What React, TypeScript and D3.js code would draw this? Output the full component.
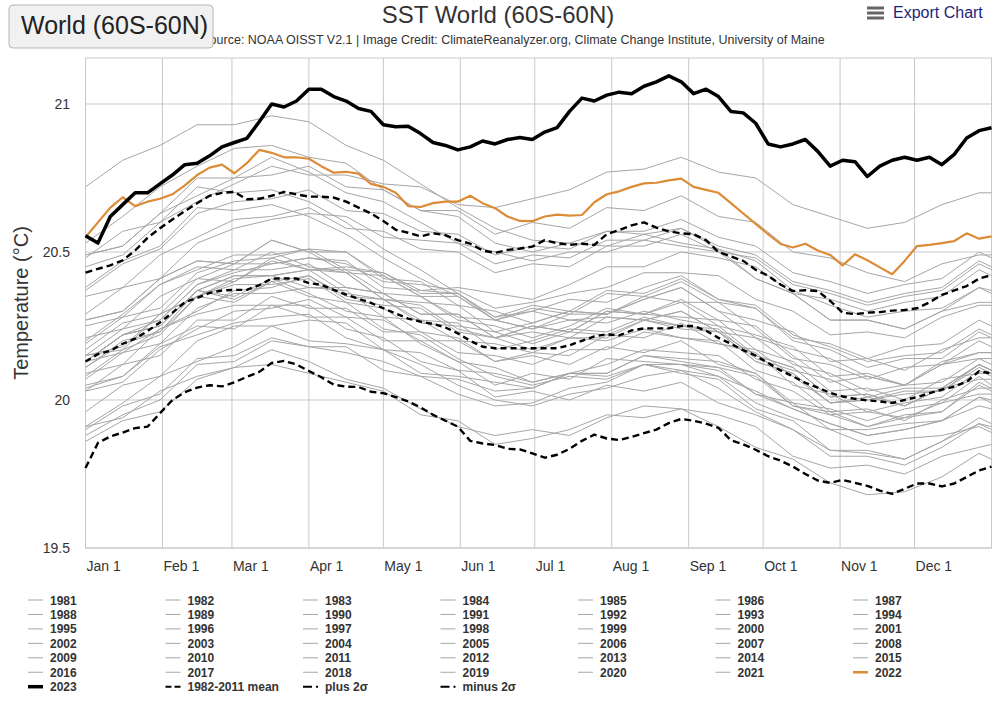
import React from "react";
import * as d3 from "d3";

// ---------- DATA ----------
const monthLabels = ["Jan 1", "Feb 1", "Mar 1", "Apr 1", "May 1", "Jun 1", "Jul 1", "Aug 1", "Sep 1", "Oct 1", "Nov 1", "Dec 1"];
const monthDays = [0, 31, 59, 90, 120, 151, 181, 212, 243, 273, 304, 334];
const yTicks = [19.5, 20, 20.5, 21];

const days5 = d3.range(0, 366, 5);
const days15 = [...d3.range(0, 361, 15), 365];

const y2023 = [
  20.555, 20.53, 20.62, 20.66, 20.70, 20.70, 20.73, 20.76, 20.795, 20.80,
  20.825, 20.855, 20.87, 20.884, 20.94, 21.0, 20.99, 21.01, 21.05, 21.05,
  21.025, 21.01, 20.985, 20.975, 20.93, 20.923, 20.925, 20.90, 20.87, 20.86,
  20.845, 20.855, 20.875, 20.865, 20.88, 20.887, 20.88, 20.905, 20.92, 20.975,
  21.02, 21.01, 21.03, 21.04, 21.035, 21.06, 21.075, 21.095, 21.075, 21.035,
  21.05, 21.025, 20.975, 20.97, 20.935, 20.865, 20.855, 20.865, 20.88, 20.84,
  20.79, 20.81, 20.805, 20.755, 20.79, 20.81, 20.82, 20.81, 20.82, 20.795,
  20.83, 20.885, 20.91, 20.92,
];
const y2022 = [
  20.55, 20.60, 20.65, 20.685, 20.655, 20.67, 20.68, 20.695, 20.725, 20.76,
  20.785, 20.795, 20.766, 20.80, 20.845, 20.835, 20.82, 20.82, 20.815, 20.79,
  20.768, 20.771, 20.765, 20.73, 20.72, 20.70, 20.655, 20.652, 20.665, 20.67,
  20.67, 20.69, 20.665, 20.648, 20.62, 20.605, 20.604, 20.62, 20.626, 20.623,
  20.625, 20.668, 20.695, 20.705, 20.72, 20.732, 20.734, 20.742, 20.748, 20.72,
  20.71, 20.70, 20.665, 20.63, 20.595, 20.56, 20.527, 20.515, 20.528, 20.505,
  20.49, 20.455, 20.492, 20.472, 20.448, 20.425, 20.47, 20.52, 20.524, 20.53,
  20.537, 20.563, 20.545, 20.553,
];
const plus2sd = [
  20.43, 20.443, 20.455, 20.472, 20.505, 20.548, 20.58, 20.61, 20.638, 20.665,
  20.69, 20.70, 20.703, 20.678, 20.68, 20.69, 20.703, 20.695, 20.687, 20.687,
  20.684, 20.67, 20.65, 20.63, 20.605, 20.575, 20.565, 20.553, 20.563, 20.557,
  20.54, 20.528, 20.505, 20.497, 20.507, 20.512, 20.518, 20.54, 20.53, 20.524,
  20.528, 20.524, 20.56, 20.574, 20.59, 20.60, 20.582, 20.57, 20.563, 20.56,
  20.54, 20.50, 20.485, 20.47, 20.44, 20.42, 20.39, 20.368, 20.371, 20.368,
  20.335, 20.295, 20.29, 20.295, 20.297, 20.302, 20.304, 20.31, 20.33, 20.355,
  20.37, 20.385, 20.41, 20.422,
];
const meanClim = [
  20.13, 20.155, 20.166, 20.19, 20.207, 20.233, 20.262, 20.295, 20.33, 20.345,
  20.362, 20.37, 20.372, 20.372, 20.388, 20.41, 20.411, 20.41, 20.395, 20.389,
  20.372, 20.356, 20.342, 20.328, 20.31, 20.292, 20.275, 20.265, 20.257, 20.245,
  20.225, 20.2, 20.18, 20.175, 20.175, 20.175, 20.175, 20.175, 20.175, 20.185,
  20.2, 20.215, 20.222, 20.218, 20.235, 20.242, 20.242, 20.242, 20.25, 20.25,
  20.234, 20.21, 20.19, 20.168, 20.15, 20.125, 20.10, 20.08, 20.058, 20.042,
  20.024, 20.012, 20.004, 19.999, 19.995, 19.99, 20.0, 20.01, 20.023, 20.035,
  20.045, 20.062, 20.097, 20.09,
];
const minus2sd = [
  19.77, 19.855, 19.877, 19.89, 19.905, 19.91, 19.955, 20.0, 20.026, 20.042,
  20.05, 20.046, 20.06, 20.078, 20.095, 20.125, 20.132, 20.12, 20.098, 20.077,
  20.052, 20.045, 20.044, 20.028, 20.023, 20.01, 19.995, 19.975, 19.95, 19.93,
  19.91, 19.862, 19.853, 19.848, 19.835, 19.833, 19.82, 19.805, 19.815, 19.835,
  19.862, 19.883, 19.87, 19.865, 19.875, 19.888, 19.9, 19.922, 19.936, 19.93,
  19.92, 19.906, 19.864, 19.85, 19.832, 19.81, 19.795, 19.775, 19.75, 19.728,
  19.72, 19.73, 19.72, 19.71, 19.694, 19.683, 19.7, 19.718, 19.718, 19.708,
  19.718, 19.74, 19.762, 19.775,
];

// grey years, sampled every 15 days (plus Dec 31)
const y1981 = [null, null, null, null, null, null, null, null, null, null, null, null, null, null, null, null, 20.12, 20.08, 20.03, 19.97, 19.92, 19.88, 19.9, 19.93, 19.98, 19.97];
const y1982 = [19.88, 19.95, 20.0, 20.12, 20.13, 20.2, 20.18, 20.16, 20.13, 20.08, 20.07, 20.03, 20.04, 20.09, 20.12, 20.17, 20.16, 20.15, 20.07, 20.03, 19.95, 19.96, 19.94, 19.99, 20.02, 20.02];
const y1983 = [20.11, 20.19, 20.23, 20.37, 20.35, 20.41, 20.36, 20.30, 20.28, 20.19, 20.13, 20.11, 20.06, 20.09, 20.08, 20.12, 20.10, 20.08, 19.99, 19.94, 19.90, 19.85, 19.87, 19.88, 19.91, 19.89];
const y1984 = [19.91, 19.94, 20.03, 20.08, 20.11, 20.17, 20.13, 20.07, 20.04, 19.97, 19.91, 19.88, 19.90, 19.88, 19.94, 19.98, 19.97, 19.91, 19.84, 19.80, 19.72, 19.68, 19.69, 19.74, 19.82, 19.80];
const y1985 = [19.86, 19.93, 19.96, 20.07, 20.11, 20.12, 20.09, 20.06, 20.03, 19.95, 19.93, 19.85, 19.87, 19.90, 19.95, 19.94, 19.97, 19.95, 19.91, 19.81, 19.77, 19.78, 19.75, 19.81, 19.84, 19.85];
const y1986 = [19.91, 19.99, 20.08, 20.13, 20.18, 20.25, 20.20, 20.19, 20.17, 20.09, 20.08, 20.06, 20.04, 20.09, 20.09, 20.15, 20.14, 20.13, 20.09, 19.99, 19.97, 19.93, 19.97, 19.99, 20.08, 20.05];
const y1987 = [20.15, 20.17, 20.29, 20.35, 20.41, 20.42, 20.38, 20.38, 20.36, 20.29, 20.29, 20.21, 20.25, 20.23, 20.30, 20.29, 20.28, 20.27, 20.17, 20.13, 20.03, 20.04, 20.0, 20.07, 20.09, 20.09];
const y1988 = [20.13, 20.22, 20.25, 20.37, 20.34, 20.40, 20.35, 20.33, 20.24, 20.22, 20.14, 20.08, 20.05, 20.08, 20.07, 20.12, 20.09, 20.07, 19.97, 19.93, 19.83, 19.83, 19.80, 19.86, 19.94, 19.92];
const y1989 = [19.90, 19.98, 20.02, 20.14, 20.15, 20.21, 20.18, 20.18, 20.10, 20.08, 20.02, 19.98, 19.99, 20.04, 20.06, 20.12, 20.12, 20.10, 20.02, 19.97, 19.92, 19.88, 19.90, 19.93, 20.01, 20.0];
const y1990 = [20.09, 20.12, 20.24, 20.30, 20.37, 20.38, 20.42, 20.35, 20.34, 20.27, 20.20, 20.19, 20.16, 20.21, 20.21, 20.27, 20.25, 20.23, 20.13, 20.09, 19.99, 20.0, 20.02, 20.03, 20.11, 20.09];
const y1991 = [20.11, 20.20, 20.23, 20.35, 20.33, 20.40, 20.42, 20.34, 20.32, 20.31, 20.23, 20.21, 20.23, 20.21, 20.28, 20.27, 20.30, 20.23, 20.21, 20.12, 20.09, 20.03, 20.05, 20.06, 20.14, 20.12];
const y1992 = [20.13, 20.16, 20.24, 20.29, 20.32, 20.32, 20.32, 20.24, 20.21, 20.13, 20.10, 20.01, 20.03, 20.0, 20.05, 20.03, 20.06, 19.99, 19.95, 19.90, 19.81, 19.81, 19.78, 19.84, 19.92, 19.90];
const y1993 = [19.96, 20.05, 20.08, 20.20, 20.25, 20.25, 20.27, 20.26, 20.17, 20.16, 20.10, 20.09, 20.06, 20.09, 20.09, 20.15, 20.13, 20.11, 20.02, 19.99, 19.90, 19.90, 19.92, 19.93, 20.01, 19.99];
const y1994 = [20.03, 20.06, 20.17, 20.24, 20.30, 20.31, 20.34, 20.28, 20.27, 20.20, 20.20, 20.13, 20.16, 20.15, 20.22, 20.21, 20.26, 20.19, 20.17, 20.08, 19.99, 20.01, 19.98, 20.04, 20.12, 20.10];
const y1995 = [20.15, 20.18, 20.29, 20.35, 20.39, 20.39, 20.41, 20.33, 20.31, 20.23, 20.21, 20.13, 20.15, 20.12, 20.18, 20.16, 20.20, 20.12, 20.09, 19.98, 19.95, 19.91, 19.94, 19.96, 20.05, 20.03];
const y1996 = [20.05, 20.08, 20.19, 20.25, 20.24, 20.32, 20.28, 20.28, 20.20, 20.20, 20.13, 20.05, 20.09, 20.07, 20.14, 20.13, 20.12, 20.11, 20.08, 19.98, 19.96, 19.91, 19.95, 19.96, 20.06, 20.04];
const y1997 = [20.08, 20.17, 20.22, 20.35, 20.40, 20.47, 20.44, 20.45, 20.43, 20.37, 20.38, 20.36, 20.34, 20.39, 20.45, 20.45, 20.50, 20.48, 20.45, 20.36, 20.34, 20.30, 20.33, 20.35, 20.44, 20.42];
const y1998 = [20.48, 20.57, 20.60, 20.72, 20.70, 20.71, 20.67, 20.60, 20.51, 20.44, 20.36, 20.28, 20.30, 20.27, 20.28, 20.27, 20.30, 20.23, 20.15, 20.11, 20.01, 20.02, 19.98, 20.04, 20.07, 20.07];
const y1999 = [20.04, 20.08, 20.18, 20.22, 20.26, 20.28, 20.29, 20.21, 20.17, 20.12, 20.05, 20.0, 19.98, 20.02, 20.04, 20.08, 20.10, 20.04, 19.96, 19.90, 19.83, 19.82, 19.80, 19.86, 19.92, 19.91];
const y2000 = [20.03, 20.12, 20.15, 20.27, 20.27, 20.35, 20.31, 20.31, 20.23, 20.23, 20.16, 20.15, 20.12, 20.17, 20.17, 20.23, 20.21, 20.19, 20.16, 20.05, 20.02, 19.96, 19.99, 20.01, 20.10, 20.08];
const y2001 = [20.15, 20.24, 20.27, 20.39, 20.44, 20.44, 20.46, 20.38, 20.36, 20.35, 20.27, 20.25, 20.21, 20.25, 20.31, 20.29, 20.33, 20.25, 20.22, 20.18, 20.08, 20.09, 20.05, 20.12, 20.16, 20.16];
const y2002 = [20.19, 20.28, 20.31, 20.43, 20.47, 20.48, 20.51, 20.44, 20.43, 20.36, 20.36, 20.28, 20.32, 20.30, 20.37, 20.36, 20.41, 20.34, 20.32, 20.22, 20.18, 20.13, 20.15, 20.16, 20.24, 20.22];
const y2003 = [20.27, 20.30, 20.41, 20.47, 20.46, 20.54, 20.50, 20.43, 20.42, 20.35, 20.28, 20.27, 20.24, 20.29, 20.29, 20.35, 20.33, 20.33, 20.24, 20.14, 20.12, 20.07, 20.11, 20.12, 20.20, 20.18];
const y2004 = [20.21, 20.24, 20.35, 20.41, 20.40, 20.48, 20.44, 20.44, 20.36, 20.29, 20.29, 20.21, 20.25, 20.23, 20.30, 20.29, 20.34, 20.27, 20.25, 20.15, 20.06, 20.08, 20.05, 20.13, 20.16, 20.16];
const y2005 = [20.20, 20.29, 20.39, 20.44, 20.49, 20.49, 20.51, 20.50, 20.41, 20.40, 20.32, 20.30, 20.26, 20.30, 20.29, 20.34, 20.38, 20.30, 20.21, 20.17, 20.14, 20.08, 20.05, 20.12, 20.14, 20.14];
const y2006 = [20.13, 20.22, 20.25, 20.37, 20.42, 20.42, 20.44, 20.43, 20.34, 20.33, 20.32, 20.23, 20.26, 20.30, 20.29, 20.34, 20.38, 20.30, 20.27, 20.23, 20.13, 20.14, 20.10, 20.17, 20.21, 20.21];
const y2007 = [20.25, 20.28, 20.39, 20.45, 20.44, 20.50, 20.45, 20.43, 20.34, 20.32, 20.24, 20.21, 20.17, 20.21, 20.20, 20.24, 20.21, 20.20, 20.10, 20.06, 19.96, 19.97, 19.93, 20.0, 20.04, 20.04];
const y2008 = [20.07, 20.16, 20.19, 20.31, 20.36, 20.36, 20.38, 20.37, 20.28, 20.27, 20.26, 20.17, 20.20, 20.24, 20.23, 20.28, 20.25, 20.24, 20.14, 20.10, 20.07, 20.01, 20.04, 20.04, 20.12, 20.10];
const y2009 = [20.13, 20.22, 20.27, 20.39, 20.43, 20.46, 20.48, 20.46, 20.40, 20.39, 20.37, 20.31, 20.33, 20.36, 20.38, 20.43, 20.43, 20.42, 20.34, 20.30, 20.22, 20.23, 20.21, 20.28, 20.32, 20.32];
const y2010 = [20.38, 20.47, 20.52, 20.65, 20.64, 20.66, 20.62, 20.56, 20.48, 20.41, 20.35, 20.27, 20.24, 20.27, 20.26, 20.30, 20.27, 20.25, 20.15, 20.11, 20.01, 20.02, 19.98, 20.04, 20.12, 20.10];
const y2011 = [20.13, 20.22, 20.25, 20.37, 20.42, 20.42, 20.44, 20.36, 20.34, 20.26, 20.25, 20.23, 20.19, 20.23, 20.22, 20.27, 20.24, 20.23, 20.13, 20.09, 19.99, 20.0, 20.03, 20.03, 20.12, 20.10];
const y2012 = [20.17, 20.26, 20.29, 20.41, 20.46, 20.46, 20.48, 20.47, 20.38, 20.37, 20.36, 20.27, 20.30, 20.34, 20.33, 20.38, 20.42, 20.34, 20.31, 20.20, 20.17, 20.11, 20.14, 20.14, 20.23, 20.21];
const y2013 = [20.27, 20.30, 20.41, 20.47, 20.46, 20.54, 20.50, 20.50, 20.42, 20.35, 20.35, 20.27, 20.31, 20.29, 20.36, 20.35, 20.40, 20.33, 20.31, 20.21, 20.19, 20.14, 20.18, 20.19, 20.27, 20.25];
const y2014 = [20.29, 20.38, 20.41, 20.53, 20.58, 20.61, 20.63, 20.62, 20.55, 20.54, 20.53, 20.46, 20.49, 20.48, 20.54, 20.54, 20.58, 20.52, 20.49, 20.40, 20.37, 20.33, 20.36, 20.38, 20.47, 20.45];
const y2015 = [20.45, 20.49, 20.60, 20.67, 20.73, 20.79, 20.76, 20.76, 20.73, 20.72, 20.66, 20.65, 20.68, 20.71, 20.77, 20.78, 20.82, 20.77, 20.75, 20.66, 20.62, 20.58, 20.60, 20.66, 20.70, 20.70];
const y2016 = [20.72, 20.81, 20.86, 20.93, 20.93, 20.96, 20.94, 20.86, 20.81, 20.73, 20.65, 20.58, 20.54, 20.53, 20.57, 20.56, 20.58, 20.51, 20.47, 20.37, 20.32, 20.28, 20.30, 20.31, 20.38, 20.37];
const y2017 = [20.49, 20.52, 20.63, 20.75, 20.75, 20.82, 20.77, 20.70, 20.67, 20.60, 20.53, 20.50, 20.47, 20.50, 20.50, 20.54, 20.52, 20.50, 20.41, 20.36, 20.27, 20.27, 20.24, 20.30, 20.38, 20.36];
const y2018 = [20.35, 20.38, 20.49, 20.55, 20.61, 20.62, 20.65, 20.58, 20.57, 20.51, 20.50, 20.43, 20.46, 20.45, 20.52, 20.52, 20.56, 20.50, 20.48, 20.39, 20.36, 20.32, 20.35, 20.37, 20.46, 20.44];
const y2019 = [20.49, 20.52, 20.63, 20.69, 20.75, 20.76, 20.79, 20.72, 20.71, 20.64, 20.64, 20.56, 20.60, 20.58, 20.65, 20.64, 20.69, 20.62, 20.60, 20.50, 20.48, 20.43, 20.40, 20.46, 20.49, 20.49];
const y2020 = [20.53, 20.62, 20.72, 20.79, 20.85, 20.86, 20.82, 20.80, 20.71, 20.64, 20.62, 20.53, 20.50, 20.53, 20.52, 20.56, 20.53, 20.51, 20.41, 20.36, 20.27, 20.27, 20.24, 20.30, 20.33, 20.33];
const y2021 = [20.37, 20.46, 20.51, 20.63, 20.67, 20.68, 20.71, 20.64, 20.63, 20.57, 20.56, 20.49, 20.52, 20.51, 20.57, 20.57, 20.61, 20.55, 20.52, 20.43, 20.40, 20.36, 20.39, 20.41, 20.50, 20.48];

const greyYears = [
  { year: 1981, values: y1981 }, { year: 1982, values: y1982 }, { year: 1983, values: y1983 },
  { year: 1984, values: y1984 }, { year: 1985, values: y1985 }, { year: 1986, values: y1986 },
  { year: 1987, values: y1987 }, { year: 1988, values: y1988 }, { year: 1989, values: y1989 },
  { year: 1990, values: y1990 }, { year: 1991, values: y1991 }, { year: 1992, values: y1992 },
  { year: 1993, values: y1993 }, { year: 1994, values: y1994 }, { year: 1995, values: y1995 },
  { year: 1996, values: y1996 }, { year: 1997, values: y1997 }, { year: 1998, values: y1998 },
  { year: 1999, values: y1999 }, { year: 2000, values: y2000 }, { year: 2001, values: y2001 },
  { year: 2002, values: y2002 }, { year: 2003, values: y2003 }, { year: 2004, values: y2004 },
  { year: 2005, values: y2005 }, { year: 2006, values: y2006 }, { year: 2007, values: y2007 },
  { year: 2008, values: y2008 }, { year: 2009, values: y2009 }, { year: 2010, values: y2010 },
  { year: 2011, values: y2011 }, { year: 2012, values: y2012 }, { year: 2013, values: y2013 },
  { year: 2014, values: y2014 }, { year: 2015, values: y2015 }, { year: 2016, values: y2016 },
  { year: 2017, values: y2017 }, { year: 2018, values: y2018 }, { year: 2019, values: y2019 },
  { year: 2020, values: y2020 }, { year: 2021, values: y2021 },
];

const legendLabels = [
  ...d3.range(1981, 2023).map(String),
  "2023", "1982-2011 mean", "plus 2\u03c3", "minus 2\u03c3",
];

// ---------- STYLE ----------
const FONT = "'Liberation Sans', Arial, Helvetica, sans-serif";
const GREY = "#a6a6a6";
const ORANGE = "#dc8b37";
const GRID = "#c9c9c9";

const W = 1000;
const H = 701;
const M = { left: 85.5, right: 991.5, top: 58, bottom: 548 };

export default function App() {
  const x = d3.scaleLinear().domain([0, 365]).range([M.left, M.right]);
  const y = d3.scaleLinear().domain([19.5, 21.1554]).range([M.bottom, M.top]);

  const line = d3
    .line<[number, number | null]>()
    .defined((d) => d[1] != null)
    .x((d) => x(d[0]))
    .y((d) => y(d[1] as number));

  const path15 = (vals: (number | null)[]) => line(days15.map((d, i) => [d, vals[i]]) as any) || "";
  const path5 = (vals: number[]) => line(days5.map((d, i) => [d, vals[i]]) as any) || "";

  const legendItem = (label: string) => {
    if (label === "2023") return { stroke: "#000", width: 3.5, dash: undefined };
    if (label === "2022") return { stroke: ORANGE, width: 2.5, dash: undefined };
    if (label === "1982-2011 mean") return { stroke: "#000", width: 2, dash: "6,3" };
    if (label.startsWith("plus") || label.startsWith("minus")) return { stroke: "#000", width: 2, dash: "9,4,2,4" };
    return { stroke: GREY, width: 1, dash: undefined };
  };

  return (
    <svg
      width={W}
      height={H}
      style={{ position: "absolute", left: 0, top: 0, background: "#fff" }}
      fontFamily={FONT}
    >
      <rect x={0} y={0} width={W} height={H} fill="#fff" />

      {/* Title & subtitle */}
      <text x={498} y={23} textAnchor="middle" fontSize={24} fill="#333">
        SST World (60S-60N)
      </text>
      <text x={513} y={44} textAnchor="middle" fontSize={12.5} fill="#333">
        Source: NOAA OISST V2.1 | Image Credit: ClimateReanalyzer.org, Climate Change Institute, University of Maine
      </text>

      {/* Region button */}
      <rect x={9} y={5} width={204} height={43} rx={4} fill="#f1f1f1" stroke="#b5b5b5" />
      <text x={21} y={34} fontSize={25} fill="#222">
        World (60S-60N)
      </text>

      {/* Export */}
      {[0, 1, 2].map((i) => (
        <line key={i} x1={867} x2={884} y1={8 + i * 5} y2={8 + i * 5} stroke="#666" strokeWidth={3} />
      ))}
      <text x={893} y={18} fontSize={16} fill="#1f1f7a">
        Export Chart
      </text>

      {/* Grid */}
      {yTicks.map((t) => (
        <line key={t} x1={M.left} x2={M.right} y1={y(t)} y2={y(t)} stroke={GRID} strokeWidth={1} />
      ))}
      {monthDays.map((d) => (
        <line key={d} x1={x(d)} x2={x(d)} y1={M.top} y2={M.bottom} stroke={GRID} strokeWidth={1} />
      ))}
      <rect x={M.left} y={M.top} width={M.right - M.left} height={M.bottom - M.top} fill="none" stroke={GRID} />

      {/* Axis labels */}
      {yTicks.map((t) => (
        <text key={t} x={70} y={y(t) + 5} textAnchor="end" fontSize={14} fill="#333">
          {String(t)}
        </text>
      ))}
      {monthDays.map((d, i) => (
        <text key={d} x={x(d) + 1} y={571} fontSize={14} fill="#333">
          {monthLabels[i]}
        </text>
      ))}
      <text
        transform={`translate(28, ${(M.top + M.bottom) / 2}) rotate(-90)`}
        textAnchor="middle"
        fontSize={20}
        fill="#333"
      >
        Temperature (°C)
      </text>

      {/* Data */}
      <g fill="none" strokeLinejoin="round">
        {greyYears.map((g) => (
          <path key={g.year} d={path15(g.values)} stroke={GREY} strokeWidth={1} />
        ))}
        <path d={path5(meanClim)} stroke="#000" strokeWidth={2.4} strokeDasharray="6,4" />
        <path d={path5(plus2sd)} stroke="#000" strokeWidth={2.4} strokeDasharray="7,4" />
        <path d={path5(minus2sd)} stroke="#000" strokeWidth={2.4} strokeDasharray="7,4" />
        <path d={path5(y2022)} stroke={ORANGE} strokeWidth={2.2} />
        <path d={path5(y2023)} stroke="#000" strokeWidth={3.5} />
      </g>

      {/* Legend */}
      <g>
        {legendLabels.map((label, i) => {
          const col = i % 7;
          const row = Math.floor(i / 7);
          const lx = 28 + col * 137.5;
          const ly = 600 + row * 14.45;
          const st = legendItem(label);
          return (
            <g key={label}>
              <line x1={lx} x2={lx + 15} y1={ly} y2={ly} stroke={st.stroke} strokeWidth={st.width} strokeDasharray={st.dash} />
              <text x={lx + 22} y={ly + 4.5} fontSize={12} fontWeight="bold" fill="#333">
                {label}
              </text>
            </g>
          );
        })}
      </g>
    </svg>
  );
}
